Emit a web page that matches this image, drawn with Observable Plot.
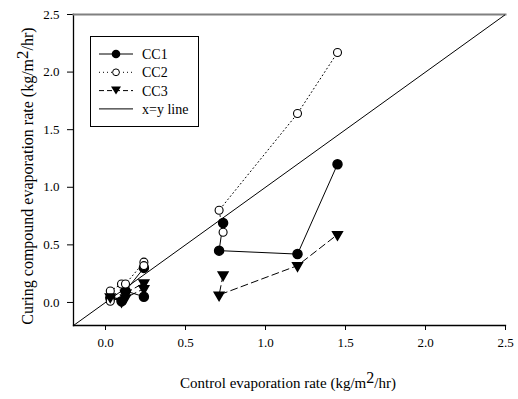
<!DOCTYPE html>
<html>
<head>
<meta charset="utf-8">
<script src="https://cdn.jsdelivr.net/npm/d3@7"></script>
<script src="https://cdn.jsdelivr.net/npm/@observablehq/plot@0.6"></script>
<style>
  html, body { margin: 0; padding: 0; background: #fff; }
  #chart { width: 518px; height: 399px; }
  #chart svg, #chart svg text { font-family: "Liberation Serif", "Times New Roman", serif !important; }
</style>
</head>
<body>
<div id="chart"></div>
<script>
// ---- data ----
const seriesNames = ["CC1", "CC2", "CC3"];

// CC1 (filled circles, solid line)
const cc1X   = [0.03, 0.10, 0.125, 0.24,   0.125, 0.24,   0.735, 0.71, 1.20, 1.45];
const cc1Y   = [0.04, 0.01, 0.10,  0.30,   0.10,  0.05,   0.69,  0.45, 0.42, 1.20];
const cc1Seg = [1, 1, 1, 1,                2, 2,          3, 3, 3, 3];

// CC2 (open circles, dotted line)
const cc2X   = [0.03, 0.10, 0.125, 0.24,   0.03, 0.24,    0.735, 0.71, 1.20, 1.45];
const cc2Y   = [0.10, 0.16, 0.16,  0.35,   0.01, 0.32,    0.61,  0.80, 1.64, 2.17];
const cc2Seg = [1, 1, 1, 1,                2, 4,          3, 3, 3, 3];

// CC3 (down triangles, dashed line)
const cc3X   = [0.03, 0.10, 0.125, 0.24,   0.125, 0.24,   0.735, 0.71, 1.20, 1.45];
const cc3Y   = [0.05, 0.01, 0.04,  0.12,   0.08,  0.17,   0.24,  0.065, 0.32, 0.59];
const cc3Seg = [1, 1, 1, 1,                2, 2,          3, 3, 3, 3];

const axisTicks = [0.0, 0.5, 1.0, 1.5, 2.0, 2.5];
const axisDomain = [-0.2, 2.5];
const identityLine = [-0.2, 2.5];

const xLabel = ["Control evaporation rate (kg/m", "2", "/hr)"];
const yLabel = ["Curing compound evaporation rate (kg/m", "2", "/hr)"];
const legendLabels = ["CC1", "CC2", "CC3", "x=y line"];

// ---- build tables ----
function table(xs, ys, segs, name) {
  return xs.map((x, i) => ({x, y: ys[i], seg: name + segs[i], series: name}));
}
const d1 = table(cc1X, cc1Y, cc1Seg, "CC1");
const d2 = table(cc2X, cc2Y, cc2Seg, "CC2");
const d3t = table(cc3X, cc3Y, cc3Seg, "CC3");
const diag = identityLine.map(v => ({x: v, y: v}));

const FONT = "Liberation Serif, Times New Roman, serif";

const plot = Plot.plot({
  width: 518,
  height: 399,
  marginLeft: 73,
  marginRight: 13,
  marginTop: 14,
  marginBottom: 74,
  style: {fontFamily: FONT, fontSize: "13px", color: "#000", background: "#fff"},
  x: {domain: axisDomain, ticks: axisTicks, tickFormat: d3.format(".1f")},
  y: {domain: axisDomain, ticks: axisTicks, tickFormat: d3.format(".1f")},
  marks: [
    Plot.axisX({ticks: axisTicks, tickFormat: d3.format(".1f"), tickSize: 5, tickPadding: 7, label: null, fontSize: 13}),
    Plot.axisY({ticks: axisTicks, tickFormat: d3.format(".1f"), tickSize: 6, tickPadding: 8, label: null, fontSize: 13}),
    Plot.frame({anchor: "bottom", stroke: "#000", strokeWidth: 1.3}),
    Plot.frame({anchor: "left", stroke: "#000", strokeWidth: 1.3}),
    Plot.frame({anchor: "top", stroke: "#808080", strokeWidth: 2}),
    Plot.line(diag, {x: "x", y: "y", stroke: "#000", strokeWidth: 1, clip: true}),
    Plot.line(d1, {x: "x", y: "y", z: "seg", stroke: "#000", strokeWidth: 1}),
    Plot.line(d2, {x: "x", y: "y", z: "seg", stroke: "#000", strokeWidth: 1, strokeDasharray: "1,3"}),
    Plot.line(d3t, {x: "x", y: "y", z: "seg", stroke: "#000", strokeWidth: 1, strokeDasharray: "7,4"}),
    Plot.dot(d1, {x: "x", y: "y", r: 4.5, fill: "#000", stroke: "#000"}),
    Plot.dot(d2, {x: "x", y: "y", r: 4, fill: "#fff", stroke: "#000", strokeWidth: 1.1}),
    Plot.dot(d3t, {x: "x", y: "y", symbol: "triangle", rotate: 180, r: 3.6, fill: "#000", stroke: "#000"})
  ]
});

const svg = d3.select(plot);

function addLabel(parts, x, y, rotate, size) {
  const t = svg.append("text")
    .attr("font-family", FONT)
    .attr("font-size", size)
    .attr("fill", "#000")
    .attr("text-anchor", "middle")
    .attr("transform", `translate(${x},${y})` + (rotate ? ` rotate(${rotate})` : ""));
  t.append("tspan").text(parts[0]);
  t.append("tspan").attr("dy", -5).attr("font-size", size + 1).text(parts[1]);
  t.append("tspan").attr("dy", 5).text(parts[2]);
}
addLabel(xLabel, 288, 388, 0, 15);
addLabel(yLabel, 33, 176, -90, 16);

// legend
const lg = svg.append("g").attr("font-family", FONT).attr("font-size", 14).attr("text-anchor", "start");
lg.append("rect").attr("x", 90.5).attr("y", 36.5).attr("width", 108).attr("height", 90)
  .attr("fill", "#fff").attr("stroke", "#000").attr("stroke-width", 1);
const dashes = [null, "1,3", "5,3", null];
legendLabels.forEach((lab, i) => {
  const yy = 54 + i * 18.3;
  lg.append("line").attr("x1", 99).attr("x2", 133).attr("y1", yy).attr("y2", yy)
    .attr("stroke", "#000").attr("stroke-width", 1).attr("stroke-dasharray", dashes[i]);
  if (i === 0) lg.append("circle").attr("cx", 116).attr("cy", yy).attr("r", 4.3).attr("fill", "#000");
  if (i === 1) lg.append("circle").attr("cx", 116).attr("cy", yy).attr("r", 3.4).attr("fill", "#fff").attr("stroke", "#000");
  if (i === 2) lg.append("path").attr("d", `M${111},${yy-4}L${121},${yy-4}L${116},${yy+4}Z`).attr("fill", "#000");
  lg.append("text").attr("x", 142).attr("y", yy + 5).attr("text-anchor", "start").text(lab);
});

document.getElementById("chart").appendChild(plot);
</script>
</body>
</html>
